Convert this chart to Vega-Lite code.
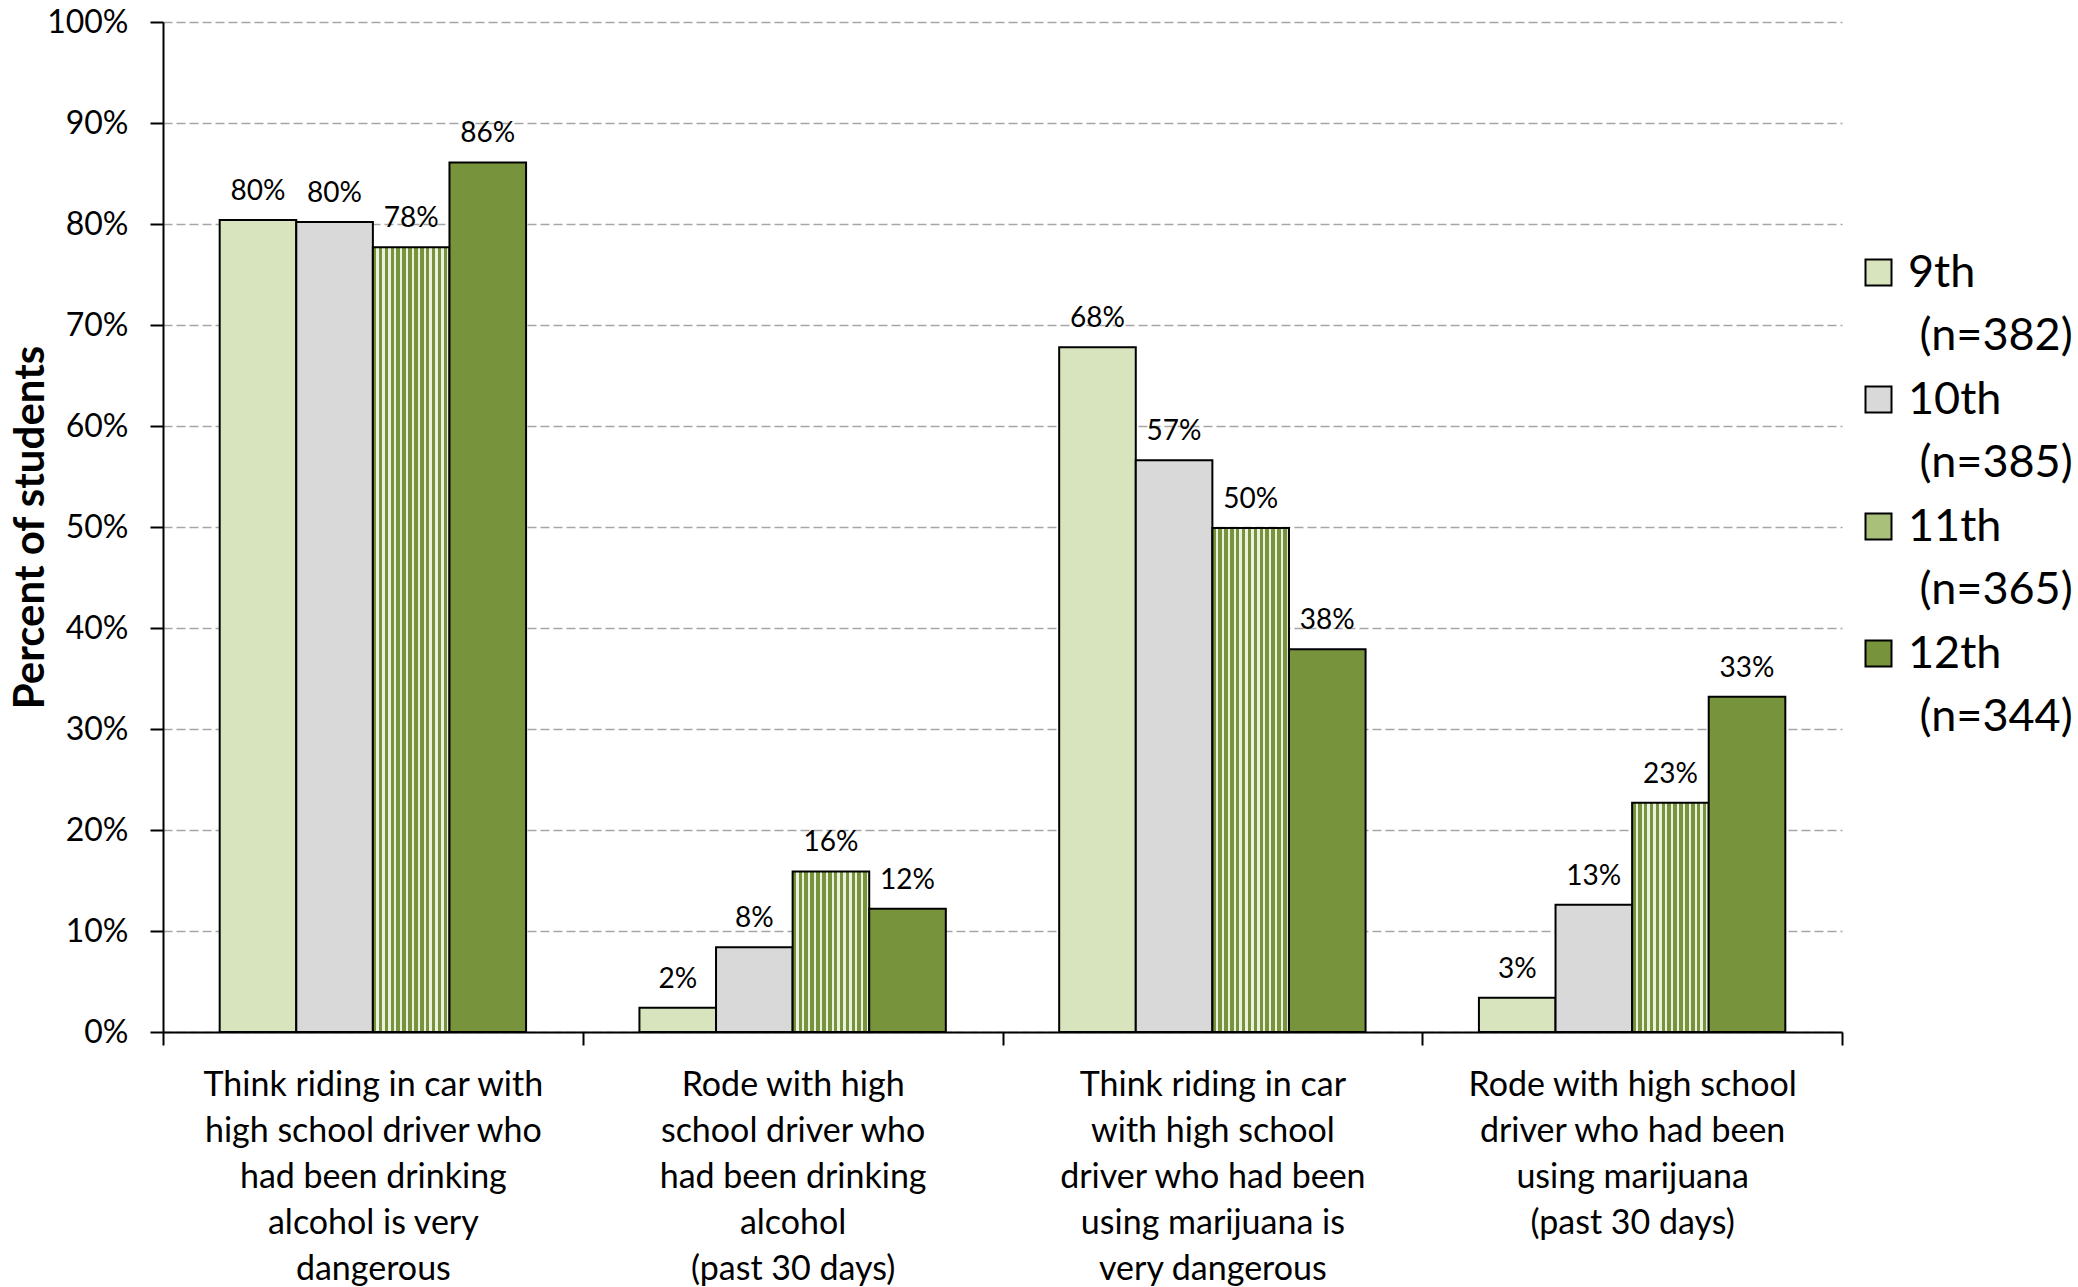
{
  "$schema": "https://vega.github.io/schema/vega-lite/v6.json",
  "autosize": "none",
  "width": 1679,
  "height": 1010,
  "padding": {"left": 163, "top": 22, "right": 236, "bottom": 255},
  "background": "white",
  "config": {"font": "Lato", "view": {"stroke": null}},
  "data": {
    "values": [
      {"cat": "Think riding in car with|high school driver who|had been drinking|alcohol is very|dangerous", "grade": "9th", "value": 0.804},
      {"cat": "Think riding in car with|high school driver who|had been drinking|alcohol is very|dangerous", "grade": "10th", "value": 0.802},
      {"cat": "Think riding in car with|high school driver who|had been drinking|alcohol is very|dangerous", "grade": "11th", "value": 0.777},
      {"cat": "Think riding in car with|high school driver who|had been drinking|alcohol is very|dangerous", "grade": "12th", "value": 0.861},
      {"cat": "Rode with high|school driver who|had been drinking|alcohol|(past 30 days)", "grade": "9th", "value": 0.024},
      {"cat": "Rode with high|school driver who|had been drinking|alcohol|(past 30 days)", "grade": "10th", "value": 0.084},
      {"cat": "Rode with high|school driver who|had been drinking|alcohol|(past 30 days)", "grade": "11th", "value": 0.159},
      {"cat": "Rode with high|school driver who|had been drinking|alcohol|(past 30 days)", "grade": "12th", "value": 0.122},
      {"cat": "Think riding in car|with high school|driver who had been|using marijuana is|very dangerous", "grade": "9th", "value": 0.678},
      {"cat": "Think riding in car|with high school|driver who had been|using marijuana is|very dangerous", "grade": "10th", "value": 0.566},
      {"cat": "Think riding in car|with high school|driver who had been|using marijuana is|very dangerous", "grade": "11th", "value": 0.499},
      {"cat": "Think riding in car|with high school|driver who had been|using marijuana is|very dangerous", "grade": "12th", "value": 0.379},
      {"cat": "Rode with high school|driver who had been|using marijuana|(past 30 days)", "grade": "9th", "value": 0.034},
      {"cat": "Rode with high school|driver who had been|using marijuana|(past 30 days)", "grade": "10th", "value": 0.126},
      {"cat": "Rode with high school|driver who had been|using marijuana|(past 30 days)", "grade": "11th", "value": 0.227},
      {"cat": "Rode with high school|driver who had been|using marijuana|(past 30 days)", "grade": "12th", "value": 0.332}
    ]
  },
  "encoding": {
    "x": {
      "field": "cat", "type": "nominal", "sort": null,
      "scale": {"paddingInner": 0, "paddingOuter": 0},
      "axis": {
        "title": null, "labelAngle": 0, "tickBand": "extent", "grid": false,
        "labelExpr": "split(datum.label, '|')",
        "labelFontSize": 34, "labelLineHeight": 46, "labelColor": "black",
        "labelBaseline": "top", "labelPadding": 23, "labelLimit": 420,
        "domainColor": "black", "domainWidth": 2,
        "tickColor": "black", "tickWidth": 2, "tickSize": 13
      }
    },
    "xOffset": {
      "field": "grade", "type": "nominal", "sort": ["9th", "10th", "11th", "12th"],
      "scale": {"paddingInner": 0, "paddingOuter": 0.74}
    },
    "y": {
      "field": "value", "type": "quantitative",
      "scale": {"domain": [0, 1], "nice": false},
      "axis": {
        "title": "Percent of students", "titleFontSize": 42, "titleFontWeight": "bold", "titleColor": "black", "titlePadding": -6,
        "values": [0, 0.1, 0.2, 0.3, 0.4, 0.5, 0.6, 0.7, 0.8, 0.9, 1],
        "format": ".0%", "labelFontSize": 32, "labelColor": "black", "labelPadding": 22,
        "domainColor": "black", "domainWidth": 2,
        "tickColor": "black", "tickWidth": 2, "tickSize": 13,
        "grid": true, "gridColor": "#a6a6a6", "gridDash": [9, 4], "gridWidth": 1.5
      }
    }
  },
  "layer": [
    {
      "mark": {"type": "bar", "stroke": "black", "strokeWidth": 2, "opacity": 1},
      "encoding": {
        "color": {
          "condition": {
            "test": "datum.grade === '11th'",
            "value": {
              "gradient": "linear", "x1": 0, "x2": 1, "y1": 0, "y2": 0,
              "stops": [
                {"offset": 0, "color": "#77933c"}, {"offset": 0.04615, "color": "#77933c"}, {"offset": 0.04615, "color": "#ebf1de"}, {"offset": 0.07692, "color": "#ebf1de"},
                {"offset": 0.07692, "color": "#77933c"}, {"offset": 0.12308, "color": "#77933c"}, {"offset": 0.12308, "color": "#ebf1de"}, {"offset": 0.15385, "color": "#ebf1de"},
                {"offset": 0.15385, "color": "#77933c"}, {"offset": 0.2, "color": "#77933c"}, {"offset": 0.2, "color": "#ebf1de"}, {"offset": 0.23077, "color": "#ebf1de"},
                {"offset": 0.23077, "color": "#77933c"}, {"offset": 0.27692, "color": "#77933c"}, {"offset": 0.27692, "color": "#ebf1de"}, {"offset": 0.30769, "color": "#ebf1de"},
                {"offset": 0.30769, "color": "#77933c"}, {"offset": 0.35385, "color": "#77933c"}, {"offset": 0.35385, "color": "#ebf1de"}, {"offset": 0.38462, "color": "#ebf1de"},
                {"offset": 0.38462, "color": "#77933c"}, {"offset": 0.43077, "color": "#77933c"}, {"offset": 0.43077, "color": "#ebf1de"}, {"offset": 0.46154, "color": "#ebf1de"},
                {"offset": 0.46154, "color": "#77933c"}, {"offset": 0.50769, "color": "#77933c"}, {"offset": 0.50769, "color": "#ebf1de"}, {"offset": 0.53846, "color": "#ebf1de"},
                {"offset": 0.53846, "color": "#77933c"}, {"offset": 0.58462, "color": "#77933c"}, {"offset": 0.58462, "color": "#ebf1de"}, {"offset": 0.61538, "color": "#ebf1de"},
                {"offset": 0.61538, "color": "#77933c"}, {"offset": 0.66154, "color": "#77933c"}, {"offset": 0.66154, "color": "#ebf1de"}, {"offset": 0.69231, "color": "#ebf1de"},
                {"offset": 0.69231, "color": "#77933c"}, {"offset": 0.73846, "color": "#77933c"}, {"offset": 0.73846, "color": "#ebf1de"}, {"offset": 0.76923, "color": "#ebf1de"},
                {"offset": 0.76923, "color": "#77933c"}, {"offset": 0.81538, "color": "#77933c"}, {"offset": 0.81538, "color": "#ebf1de"}, {"offset": 0.84615, "color": "#ebf1de"},
                {"offset": 0.84615, "color": "#77933c"}, {"offset": 0.89231, "color": "#77933c"}, {"offset": 0.89231, "color": "#ebf1de"}, {"offset": 0.92308, "color": "#ebf1de"},
                {"offset": 0.92308, "color": "#77933c"}, {"offset": 0.96923, "color": "#77933c"}, {"offset": 0.96923, "color": "#ebf1de"}, {"offset": 1, "color": "#ebf1de"}
              ]
            }
          },
          "field": "grade", "type": "nominal",
          "scale": {"domain": ["9th", "10th", "11th", "12th"], "range": ["#d7e4bd", "#d9d9d9", "#a9c07a", "#77933c"]},
          "legend": {
            "title": null, "orient": "none", "legendX": 1693, "legendY": 228,
            "symbolType": "square", "symbolSize": 676, "symbolStrokeColor": "black", "symbolStrokeWidth": 2, "symbolOpacity": 1,
            "labelFontSize": 45, "labelColor": "black", "labelLimit": 400, "labelOffset": 7,
            "labelBaseline": "middle", "rowPadding": 18, "padding": 0,
            "labelExpr": "datum.label == '9th' ? ['9th', '\u200b\u00a0(n=382)'] : datum.label == '10th' ? ['10th', '\u200b\u00a0(n=385)'] : datum.label == '11th' ? ['11th', '\u200b\u00a0(n=365)'] : ['12th', '\u200b\u00a0(n=344)']",
            "encode": {
              "labels": {"update": {"lineHeight": {"value": 63}}},
              "symbols": {"update": {"stroke": {"value": "black"}, "strokeWidth": {"value": 2}}}
            }
          }
        }
      }
    },
    {
      "mark": {"type": "text", "baseline": "bottom", "dy": -14, "fontSize": 28, "color": "black"},
      "encoding": {
        "text": {"field": "value", "type": "quantitative", "format": ".0%"}
      }
    }
  ]
}
